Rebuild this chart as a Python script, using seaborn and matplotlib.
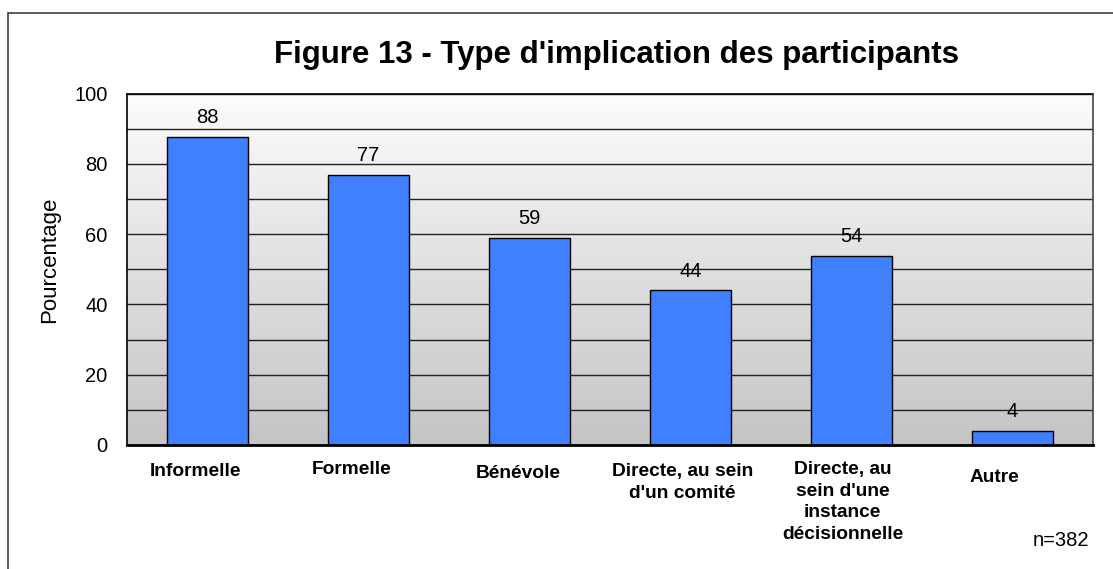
"""Figure 13 - bar chart of participant involvement types (Excel-style look)."""

import matplotlib

matplotlib.use("Agg")

import matplotlib.pyplot as plt
import matplotlib.patheffects as pe
import numpy as np
import seaborn as sns
from matplotlib.colors import LinearSegmentedColormap
from matplotlib.patches import Rectangle
from matplotlib.transforms import blended_transform_factory

# --- data ---
categories = [
    "Informelle",
    "Formelle",
    "Bénévole",
    "Directe, au sein\nd'un comité",
    "Directe, au\nsein d'une\ninstance\ndécisionnelle",
    "Autre",
]
percentages = [87.6, 76.8, 58.9, 44.0, 53.8, 4.0]
y_ticks = [0, 20, 40, 60, 80, 100]
title = "Figure 13 - Type d'implication des participants"
y_title = "Pourcentage"
note = "n=382"

# Excel placed the category labels a bit irregularly (pixel offsets / centres)
label_dx_px = [-12, -17, -11, -8, -9, -18]
label_y_px = [471, 469.5, 473.5, 482.5, 502, 477.5]

W, H = 1113, 569
BAR_COLOR = "#4080ff"

sns.set_style("white")
plt.rcParams["font.family"] = ["Liberation Sans", "DejaVu Sans"]
plt.rcParams["text.color"] = "black"
plt.rcParams["xtick.color"] = "black"
plt.rcParams["ytick.color"] = "black"
plt.rcParams["axes.labelcolor"] = "black"

fig = plt.figure(figsize=(W / 100, H / 100), dpi=100)
ax = fig.add_axes([127 / W, 1 - 445 / H, (1093 - 127) / W, (445 - 93.5) / H])

sns.barplot(
    x=categories,
    y=percentages,
    color=BAR_COLOR,
    saturation=1,
    width=0.5,
    edgecolor="black",
    linewidth=1,
    ax=ax,
    zorder=3,
)

# vertical grey gradient behind the plot area
grad = LinearSegmentedColormap.from_list("bg", ["#c4c4c4", "#fcfcfc"])
ax.imshow(
    np.linspace(0, 1, 256).reshape(-1, 1),
    cmap=grad,
    origin="lower",
    extent=[0, 1, 0, 1],
    transform=ax.transAxes,
    aspect="auto",
    zorder=0,
)

ax.set_xlim(-0.5, len(categories) - 0.5)
ax.set_ylim(0, 100)
ax.set_yticks(y_ticks)
ax.set_yticklabels([str(t) for t in y_ticks], fontsize=14.5)
ax.set_yticks(range(0, 101, 10), minor=True)
ax.grid(axis="y", which="both", color="#202020", linewidth=1, zorder=1)
ax.set_axisbelow(True)
ax.tick_params(axis="y", which="both", length=0, pad=14, labelcolor="black")
ax.set_xticks([])
ax.set_xlabel("")
ax.set_ylabel("")

for side in ["top", "left"]:
    ax.spines[side].set_color("black")
    ax.spines[side].set_linewidth(1.2)
ax.spines["bottom"].set_color("black")
ax.spines["bottom"].set_linewidth(2)
ax.spines["right"].set_color("#444444")
ax.spines["right"].set_linewidth(1.2)
for side in ["bottom", "right"]:
    ax.spines[side].set_path_effects(
        [pe.SimplePatchShadow(offset=(1.2, -1.2), shadow_rgbFace="#888888", alpha=0.8), pe.Normal()]
    )
    ax.spines[side].set_zorder(4)

# value labels above the bars
ax.bar_label(
    ax.containers[0],
    labels=[f"{v:.0f}" for v in percentages],
    padding=7,
    fontsize=14.5,
    color="black",
)

# category labels
trans = blended_transform_factory(ax.transData, fig.transFigure)
for i, (lab, dx, ypx) in enumerate(zip(categories, label_dx_px, label_y_px)):
    ax.text(
        i + dx / 161,
        1 - ypx / H,
        lab,
        transform=trans,
        ha="center",
        va="center",
        fontsize=13.8,
        fontweight="bold",
        linespacing=1.35,
        multialignment="center",
        color="black",
    )

fig.text(616.5 / W, 1 - 62.7 / H, title, ha="center", va="baseline",
         fontsize=22.5, fontweight="bold", color="black")
fig.text(50 / W, 1 - 260 / H, y_title, rotation=90, ha="center", va="center",
         fontsize=16, color="black")
fig.text(1089 / W, 1 - 540 / H, note, ha="right", va="center", fontsize=14.5,
         color="black")

# outer chart frame (cropped on the right and bottom in the original)
fig.add_artist(
    Rectangle((8 / W, -0.1), 1.2, 1.1 - 13 / H, transform=fig.transFigure,
              fill=False, edgecolor="#404040", linewidth=1.2)
)

fig.savefig("out.png", dpi=100)
